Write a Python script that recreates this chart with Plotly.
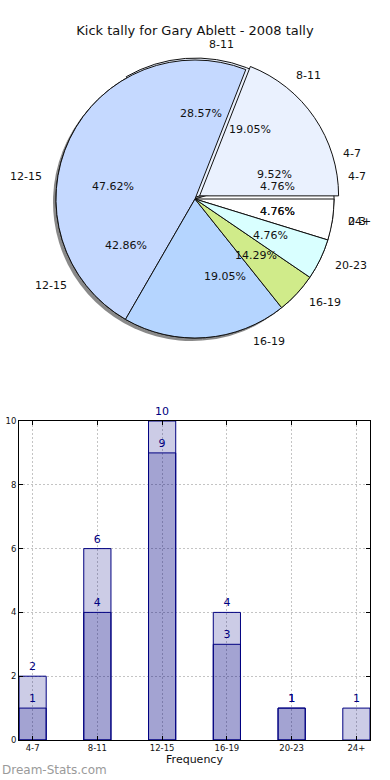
import numpy as np
import plotly.graph_objects as go

# ---------------- data ----------------
TITLE = "Kick tally for Gary Ablett - 2008 tally"

pie_a_labels = ['0-3', '4-7', '8-11', '12-15', '16-19']
pie_a_values = [1, 2, 6, 9, 3]
pie_a_colors = ['#d9ffff', '#ffffff', '#eaf1fe', '#c5d9ff', '#b5d5ff']

pie_b_labels = ['4-7', '8-11', '12-15', '16-19', '20-23', '24+']
pie_b_values = [1, 4, 10, 4, 1, 1]
pie_b_colors = ['#ffffff', '#eaf1fe', '#c5d9ff', '#b5d5ff', '#d0eb8a', '#d9ffff']

bar_categories = ['4-7', '8-11', '12-15', '16-19', '20-23', '24+']
bar_series_a = [2, 6, 9, 3, 1, None]
bar_series_b = [1, 4, 10, 4, 1, 1]

# ---------------- layout constants ----------------
W, H = 390, 780
CX, CY, R = 195, 199, 139          # pie centre / radius in pixels
A_START = -17.14                   # start angle of the back pie (deg, ccw from east)
B_START = 0.0
PULL_A = [0, 0, 0.015, 0, 0]
PULL_B = [0, 0.04, 0, 0, 0, 0]
FONT = "DejaVu Sans"


def dom(cx, cy, r, pull):
    half = r * (1 + pull)
    return dict(x=[(cx - half) / W, (cx + half) / W],
                y=[1 - (cy + half) / H, 1 - (cy - half) / H])


def mids(values, start):
    v = np.array(values, dtype=float)
    return start + 360.0 * (np.cumsum(v) - v / 2) / v.sum()


fig = go.Figure()

# shadow
fig.add_trace(go.Pie(
    values=pie_a_values, labels=pie_a_labels, sort=False,
    direction='counterclockwise', rotation=90 - A_START,
    domain=dom(CX - 3, CY + 3, R, 0),
    marker=dict(colors=['rgba(40,40,40,0.55)'] * len(pie_a_values), line=dict(width=0)),
    textinfo='none', hoverinfo='skip', showlegend=False))

# back pie
fig.add_trace(go.Pie(
    values=pie_a_values, labels=pie_a_labels, sort=False,
    direction='counterclockwise', rotation=90 - A_START, pull=PULL_A,
    domain=dom(CX, CY, R, max(PULL_A)),
    marker=dict(colors=pie_a_colors, line=dict(color='#111111', width=1)),
    textinfo='none', showlegend=False))

# front pie
fig.add_trace(go.Pie(
    values=pie_b_values, labels=pie_b_labels, sort=False,
    direction='counterclockwise', rotation=90 - B_START, pull=PULL_B,
    domain=dom(CX, CY, R, max(PULL_B)),
    marker=dict(colors=pie_b_colors, line=dict(color='#111111', width=1)),
    textinfo='none', showlegend=False))

annotations = []
for labels, values, start, pulls in [(pie_a_labels, pie_a_values, A_START, PULL_A),
                                     (pie_b_labels, pie_b_values, B_START, PULL_B)]:
    tot = float(sum(values))
    for lab, val, ang, p in zip(labels, values, mids(values, start), pulls):
        t = np.deg2rad(ang)
        c, s = np.cos(t), np.sin(t)
        rr = (0.6 + p) * R
        annotations.append(dict(
            x=(CX + rr * c) / W, y=1 - (CY - rr * s) / H, xref='paper', yref='paper',
            text=f"{100 * val / tot:.2f}%", showarrow=False,
            font=dict(size=11, color='#111111', family=FONT),
            xanchor='center', yanchor='middle'))
        rl = (1.1 + p) * R
        annotations.append(dict(
            x=(CX + rl * c) / W, y=1 - (CY - rl * s) / H, xref='paper', yref='paper',
            text=lab, showarrow=False,
            font=dict(size=11, color='#111111', family=FONT),
            xanchor='left' if c >= 0 else 'right', yanchor='middle'))

# ---------------- bars ----------------
for series in (bar_series_a, bar_series_b):
    fig.add_trace(go.Bar(
        x=bar_categories, y=series, width=0.42,
        marker=dict(color='rgba(0,0,128,0.2)', line=dict(color='navy', width=1)),
        texttemplate='%{y}', textposition='outside',
        textfont=dict(color='navy', size=11, family=FONT),
        cliponaxis=False, showlegend=False, xaxis='x', yaxis='y'))

annotations.append(dict(
    x=-7 / W, y=1 - 580 / H, xref='paper', yref='paper', text='Occurrences',
    textangle=-90, showarrow=False, font=dict(size=11, color='#111111', family=FONT),
    xanchor='center', yanchor='middle'))
annotations.append(dict(
    x=0, y=1 - 770 / H, xref='paper', yref='paper', text='Dream-Stats.com',
    showarrow=False, font=dict(size=12, color='#9a9a9a', family=FONT),
    xanchor='left', yanchor='middle'))

axis_style = dict(showline=True, linecolor='black', linewidth=1, mirror='allticks',
                  ticks='inside', ticklen=4, tickcolor='black', automargin=False,
                  showgrid=True, gridcolor='#c4c4c4', griddash='2px,2px', gridwidth=1,
                  tickfont=dict(size=8.5, color='#111111', family=FONT), zeroline=False)

fig.update_layout(
    width=W, height=H,
    margin=dict(l=0, r=0, t=0, b=0, autoexpand=False),
    paper_bgcolor='white', plot_bgcolor='white',
    font=dict(family=FONT, color='#111111'),
    title=dict(text=TITLE, x=0.5, xanchor='center', y=1 - 30 / H, yanchor='middle',
               font=dict(size=13, family=FONT, color='#111111')),
    barmode='overlay',
    xaxis=dict(domain=[19 / W, 370 / W], type='category', range=[-0.21, 5.21],
               title=dict(text='Frequency', font=dict(size=11, family=FONT), standoff=2),
               **axis_style),
    yaxis=dict(domain=[1 - 740 / H, 1 - 421 / H], range=[0, 10], dtick=2,
               **axis_style),
    annotations=annotations,
)

fig.write_html("out.html",
               config={'displayModeBar': False},
               post_script="document.body.style.margin='0';document.body.style.padding='0';"
                           "document.body.style.overflow='hidden';")
